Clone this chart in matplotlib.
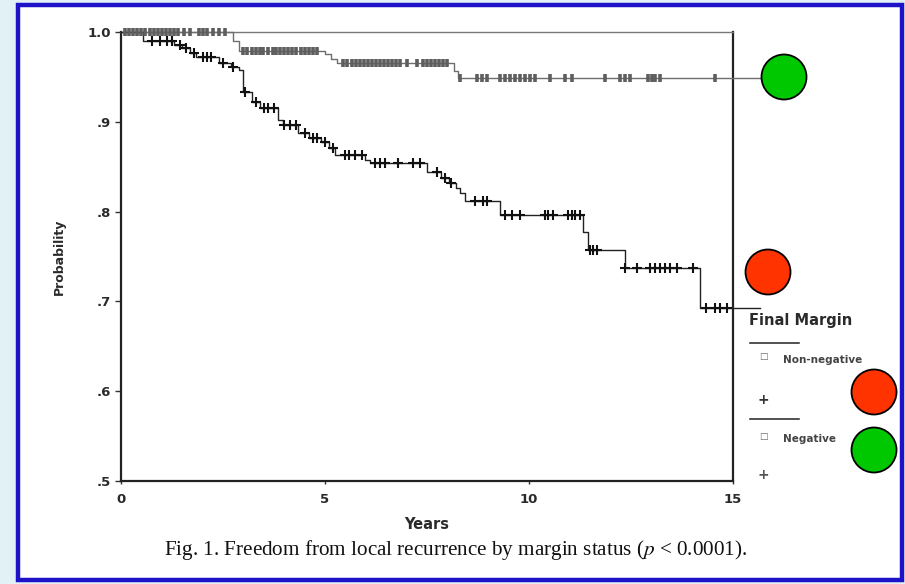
import numpy as np
import matplotlib
matplotlib.use("Agg")
import matplotlib.pyplot as plt
from matplotlib.patches import Rectangle, Ellipse
from matplotlib.lines import Line2D

# ---------------- data ----------------
# Negative margin (upper curve): step times and survival after each step
neg_times = [0.0, 2.75, 2.9, 5.0, 5.15, 5.3, 8.15, 8.25, 15.66]
neg_surv = [1.0, 0.990, 0.979, 0.975, 0.970, 0.965, 0.957, 0.949, 0.949]
neg_censor = [0.1, 0.2, 0.3, 0.4, 0.5, 0.6, 0.7, 0.8, 0.9, 1.0, 1.1, 1.2, 1.3, 1.4,
              1.55, 1.7, 1.9, 2.0, 2.1, 2.25, 2.4, 2.55,
              3.0, 3.1, 3.2, 3.3, 3.41, 3.48, 3.6, 3.73, 3.8, 3.9, 4.0, 4.1, 4.2,
              4.3, 4.4, 4.5, 4.6, 4.7, 4.8,
              5.45, 5.55, 5.65, 5.75, 5.85, 5.95, 6.05, 6.15, 6.25, 6.35, 6.45,
              6.55, 6.65, 6.75, 6.85, 7.0, 7.25, 7.4, 7.5, 7.6, 7.7, 7.8, 7.9, 8.0,
              8.3, 8.73, 8.85, 8.97, 9.29, 9.41, 9.53, 9.66, 9.78, 9.9, 10.02,
              10.15, 10.51, 10.88, 11.05, 11.86, 12.23, 12.35, 12.47, 12.92,
              13.01, 13.1, 13.2, 14.56]

# Non-negative margin (lower curve)
nonneg_times = [0.0, 0.55, 1.3, 1.5, 1.7, 1.85, 2.4, 2.7, 2.9, 3.0, 3.2, 3.4,
                3.85, 3.97, 4.35, 4.6, 4.9, 5.1, 5.25, 5.98, 6.1, 7.5, 7.85,
                8.05, 8.2, 8.3, 8.43, 9.29, 11.32, 11.45, 12.35, 14.19, 15.66]
nonneg_surv = [1.0, 0.990, 0.985, 0.982, 0.977, 0.972, 0.966, 0.961, 0.958,
               0.933, 0.922, 0.915, 0.902, 0.896, 0.888, 0.882, 0.877, 0.871,
               0.863, 0.857, 0.854, 0.844, 0.837, 0.832, 0.826, 0.821, 0.812,
               0.796, 0.777, 0.757, 0.737, 0.693, 0.693]
nonneg_censor = [0.76, 0.96, 1.13, 1.25, 1.45, 1.6, 1.8, 2.0, 2.1, 2.2, 2.5,
                 2.75, 3.05, 3.3, 3.5, 3.6, 3.75, 4.0, 4.15, 4.3, 4.5, 4.7,
                 4.8, 5.0, 5.2, 5.49, 5.6, 5.74, 5.91, 6.23, 6.35, 6.47, 6.79,
                 7.16, 7.33, 7.75, 7.95, 8.1, 8.68, 8.87, 8.97, 9.41, 9.58,
                 9.78, 10.39, 10.47, 10.59, 10.96, 11.05, 11.13, 11.25, 11.49,
                 11.57, 11.67, 12.35, 12.65, 12.97, 13.09, 13.21, 13.33, 13.46,
                 13.63, 14.02, 14.34, 14.56, 14.68, 14.85]

x_ticks = [0, 5, 10, 15]
x_ticklabels = ["0", "5", "10", "15"]
y_ticks = [0.5, 0.6, 0.7, 0.8, 0.9, 1.0]
y_ticklabels = [".5", ".6", ".7", ".8", ".9", "1.0"]

W, H = 905, 584
SANS = "DejaVu Sans"


def surv_at(times, surv, t):
    times = np.asarray(times)
    surv = np.asarray(surv)
    idx = np.searchsorted(times, t, side="right") - 1
    return surv[idx]


plt.rcParams["mathtext.fontset"] = "stix"

fig = plt.figure(figsize=(W / 100, H / 100), dpi=100)
fig.patch.set_facecolor("#e2f1f6")

# white panel with blue border
fig.add_artist(Rectangle((18 / W, 1 - 580 / H), (902 - 18) / W, (580 - 5) / H,
                         transform=fig.transFigure, facecolor="white",
                         edgecolor="#1e12c8", linewidth=3.2, zorder=0))

ax = fig.add_axes([121 / W, 1 - 481 / H, 612 / W, 449 / H])
ax.set_facecolor("none")
ax.set_xlim(0, 15)
ax.set_ylim(0.5, 1.0)

# curves
ax.step(neg_times, neg_surv, where="post", color="#6e6e6e", lw=1.0, clip_on=False, zorder=3)
ax.step(nonneg_times, nonneg_surv, where="post", color="#222222", lw=1.0, clip_on=False, zorder=3)

neg_cy = [surv_at(neg_times, neg_surv, t) for t in neg_censor]
ax.plot(neg_censor, neg_cy, ls="none", marker="|", ms=6, mew=2.6, color="#5e5e5e",
        clip_on=False, zorder=4)
non_cy = [surv_at(nonneg_times, nonneg_surv, t) for t in nonneg_censor]
ax.plot(nonneg_censor, non_cy, ls="none", marker="+", ms=7, mew=1.5, color="#111111",
        clip_on=False, zorder=4)

# axes styling
for s in ["left", "bottom", "right"]:
    ax.spines[s].set_linewidth(1.6)
    ax.spines[s].set_color("#222222")
ax.spines["top"].set_linewidth(1.0)
ax.spines["top"].set_color("#777777")

ax.set_xticks(x_ticks)
ax.set_xticklabels(x_ticklabels)
ax.set_yticks(y_ticks)
ax.set_yticklabels(y_ticklabels)
ax.tick_params(axis="y", direction="out", length=4, width=1, pad=3, colors="#333333",
               labelsize=9.5)
ax.tick_params(axis="x", direction="out", length=2.5, width=1, pad=6, colors="#333333",
               labelsize=9.5)
for lab in ax.get_xticklabels() + ax.get_yticklabels():
    lab.set_fontweight("bold")
    lab.set_family(SANS)
    lab.set_color("#2a2a2a")

ax.set_xlabel("Years", fontsize=10.5, fontweight="bold", family=SANS,
              color="#2a2a2a", labelpad=8)
ax.set_ylabel("Probability", fontsize=9, fontweight="bold", family=SANS,
              color="#2a2a2a", labelpad=16)

# caption
fig.text(456 / W, 1 - 550 / H,
         r"Fig. 1. Freedom from local recurrence by margin status ($p$ < 0.0001).",
         ha="center", va="center", fontsize=15.2, family="Liberation Serif", color="#111111")

# legend block
fig.text(749 / W, 1 - 320 / H, "Final Margin", ha="left", va="center",
         fontsize=10.5, fontweight="bold", family=SANS, color="#2a2a2a")
for ly in (343, 419):
    fig.add_artist(Line2D([750 / W, 799 / W], [1 - ly / H, 1 - ly / H],
                          transform=fig.transFigure, color="#222222", lw=1.1))
fig.text(763 / W, 1 - 357 / H, "\u25a1", ha="center", va="center", fontsize=6.5,
         family=SANS, color="#666666")
fig.text(783 / W, 1 - 360 / H, "Non-negative", ha="left", va="center", fontsize=7.5,
         fontweight="bold", family=SANS, color="#444444")
fig.text(763 / W, 1 - 400 / H, "+", ha="center", va="center", fontsize=10,
         fontweight="bold", family=SANS, color="#333333")
fig.text(763 / W, 1 - 437 / H, "\u25a1", ha="center", va="center", fontsize=6.5,
         family=SANS, color="#666666")
fig.text(783 / W, 1 - 439 / H, "Negative", ha="left", va="center", fontsize=7.5,
         fontweight="bold", family=SANS, color="#444444")
fig.text(763 / W, 1 - 475 / H, "+", ha="center", va="center", fontsize=10,
         fontweight="bold", family=SANS, color="#555555")

# highlight circles
circles = [(784, 77, "#00c800"), (768, 272, "#ff3300"),
           (874, 392, "#ff3300"), (874, 450, "#00c800")]
r = 22.5
for cx, cy, col in circles:
    fig.add_artist(Ellipse((cx / W, 1 - cy / H), 2 * r / W, 2 * r / H,
                           transform=fig.transFigure, facecolor=col,
                           edgecolor="black", linewidth=1.3, zorder=10))

fig.savefig("out.png", dpi=100)
